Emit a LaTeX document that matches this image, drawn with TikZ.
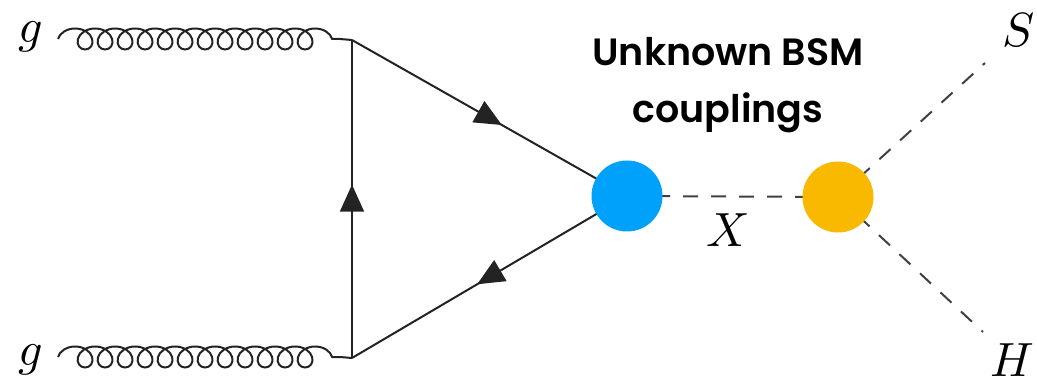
\documentclass[tikz,border=0pt]{standalone}
\usepackage{fontspec}
\usepackage{unicode-math}
\newfontfamily\labelfont{Poppins SemiBold}
\usetikzlibrary{decorations.pathmorphing,decorations.markings,arrows.meta,backgrounds}
\definecolor{vtxblue}{RGB}{0,161,250}
\definecolor{vtxgold}{RGB}{248,185,0}
\definecolor{lineink}{RGB}{35,35,35}

\begin{document}
\begin{tikzpicture}[x=1pt,y=-1pt,
  plain/.style={draw=lineink, line width=2pt},
  fermion/.style={plain, postaction={decorate},
    decoration={markings, mark=at position 0.545 with {\arrow{Triangle[length=27pt,width=24pt]}}}},
  gluon/.style={plain, decorate,
    decoration={coil, amplitude=10.5pt, segment length=20pt, aspect=1.15}},
  scalar/.style={draw=black!75, line width=2pt, dash pattern=on 15pt off 13pt},
  vertex/.style={circle, inner sep=0pt, minimum size=71pt},
  mathlabel/.style={font=\fontsize{48}{48}\selectfont, inner sep=0pt, anchor=base},
]
\useasboundingbox (0,0) rectangle (1037,382);

% loop vertices and external points
\coordinate (vt) at (352,40);
\coordinate (vb) at (352,358);
\coordinate (g1) at (58,39);
\coordinate (g1e) at (340,39);
\coordinate (g2) at (58,357);
\coordinate (g2e) at (340,357);
\coordinate (send) at (985,63);
\coordinate (hend) at (983,332);

% effective vertices
\node[vertex, fill=vtxblue] (bv) at (627,196) {};
\node[vertex, fill=vtxgold] (ov) at (838,197) {};

\begin{scope}[on background layer]
  % incoming gluons
  \draw[gluon] (g1) -- (g1e);
  \draw[plain] (g1e) -- (vt);
  \draw[gluon] (g2) -- (g2e);
  \draw[plain] (g2e) -- (vb);
  % quark triangle
  \path[fermion] (vt) -- (bv.center);
  \path[fermion] (bv.center) -- (vb);
  \path[fermion] (vb) -- (vt);
  % scalar lines
  \draw[scalar] (bv.center) -- (ov.center);
  \draw[scalar] (ov.center) -- (send);
  \draw[scalar] (ov.center) -- (hend);
\end{scope}

% labels
\node[mathlabel] (lg1) at (31,43) {$g$};
\node[mathlabel] (lg2) at (31,365) {$g$};
\node[mathlabel] (lx) at (728,247) {$X$};
\node[mathlabel] (ls) at (1019,47) {$S$};
\node[mathlabel] (lh) at (1012,376) {$H$};
\node[font=\labelfont\fontsize{38}{57}\selectfont, align=center, inner sep=0pt]
  (bsm) at (728,85) {Unknown BSM\\couplings};
\end{tikzpicture}
\end{document}
